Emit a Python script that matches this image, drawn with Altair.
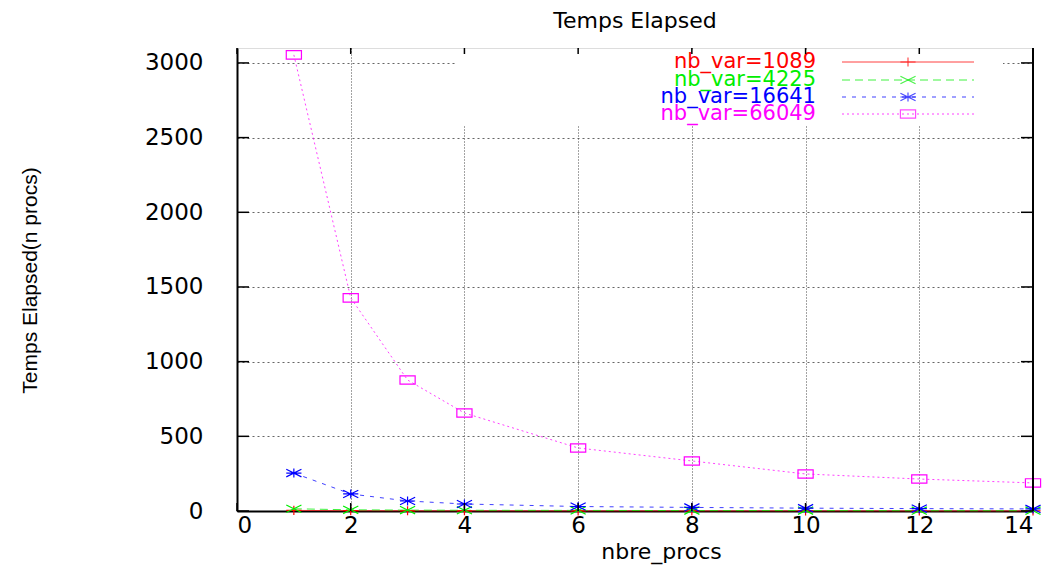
import altair as alt
import pandas as pd

# ---- data ----
procs = [1, 2, 3, 4, 6, 8, 10, 12, 14]
series_names = ["nb_var=1089", "nb_var=4225", "nb_var=16641", "nb_var=66049"]
t_1089 = [4, 2, 1.5, 1.2, 0.9, 0.7, 0.6, 0.5, 0.5]
t_4225 = [15, 8, 6, 5, 4, 3, 3, 2, 2]
t_16641 = [254, 114, 67, 47, 30, 24, 19, 16, 14]
t_66049 = [3054, 1427, 877, 656, 422, 335, 248, 214, 188]
x_ticks = [0, 2, 4, 6, 8, 10, 12, 14]
y_ticks = [0, 500, 1000, 1500, 2000, 2500, 3000]

colors = ["#ff0000", "#00ee00", "#0000ff", "#ff00ff"]
dashes = [[1, 0], [8, 5], [4, 6], [2, 3]]
shapes = [
    "M-1,0L1,0M0,-0.6L0,0.6",
    "M-1,-0.5L1,0.5M-1,0.5L1,-0.5",
    "M-1,0L1,0M0,-0.6L0,0.6M-1,-0.5L1,0.5M-1,0.5L1,-0.5",
    "M-1,-0.55L1,-0.55L1,0.55L-1,0.55Z",
]

rows = []
for name, vals in zip(series_names, [t_1089, t_4225, t_16641, t_66049]):
    for p, v in zip(procs, vals):
        rows.append({"procs": p, "time": v, "series": name})
df = pd.DataFrame(rows)

W, H = 796, 463
FONT = "DejaVu Sans"

xs = alt.Scale(domain=[0, 14], nice=False, zero=False)
ys = alt.Scale(domain=[0, 3100], nice=False)
col = alt.Color("series:N", scale=alt.Scale(domain=series_names, range=colors), legend=None)
dash = alt.StrokeDash("series:N", scale=alt.Scale(domain=series_names, range=dashes), legend=None)
shp = alt.Shape("series:N", scale=alt.Scale(domain=series_names, range=shapes), legend=None)

x_axis = alt.Axis(values=x_ticks, format="d", title="nbre_procs", grid=True, gridDash=[1, 2],
                  gridColor="#333", gridOpacity=0.9, ticks=False, tickSize=0,
                  domainColor="black", domainWidth=2, labelFont=FONT, labelFontSize=23,
                  labelPadding=3, labelColor="black", titleFont=FONT, titleFontSize=22,
                  titleFontWeight="normal", titleX=424, titleY=40, titleBaseline="middle",
                  titleAlign="center", titleColor="black")
y_axis = alt.Axis(values=y_ticks, format="d", title="Temps Elapsed(n procs)", grid=True,
                  gridDash=[2, 3], gridColor="#555", gridOpacity=0.9, ticks=False, tickSize=0,
                  domainColor="black", domainWidth=2, labelFont=FONT, labelFontSize=23,
                  labelPadding=34, labelColor="black",
                  titleFont="Liberation Sans Narrow, Liberation Sans", titleFontSize=21,
                  titleFontWeight="normal", titleX=-207, titleY=232, titleAngle=270,
                  titleBaseline="middle", titleAlign="center", titleColor="black")

base = alt.Chart(df)
lines = base.mark_line(strokeWidth=1, opacity=0.75).encode(
    x=alt.X("procs:Q", scale=xs, axis=x_axis),
    y=alt.Y("time:Q", scale=ys, axis=y_axis),
    color=col, strokeDash=dash, detail="series:N",
)
points = base.mark_point(filled=False, strokeWidth=1.2, size=230, opacity=1).encode(
    x=alt.X("procs:Q", scale=xs), y=alt.Y("time:Q", scale=ys),
    color=col, shape=shp,
)

# legend box (white) covering the grid
legend_box = alt.Chart(pd.DataFrame({"a": [0]})).mark_rect(color="white").encode(
    x=alt.value(220), x2=alt.value(766), y=alt.value(1.5), y2=alt.value(77)
)

# inward ticks on all four sides, and the right frame line
xt = pd.DataFrame({"v": x_ticks})
yt = pd.DataFrame({"v": y_ticks})
tick_bottom = alt.Chart(xt).mark_rule(color="black", strokeWidth=1.5).encode(
    x=alt.X("v:Q", scale=xs), y=alt.value(H), y2=alt.value(H - 8))
tick_top = alt.Chart(xt).mark_rule(color="black", strokeWidth=1.5).encode(
    x=alt.X("v:Q", scale=xs), y=alt.value(0), y2=alt.value(6))
tick_left = alt.Chart(yt).mark_rule(color="black", strokeWidth=1.5).encode(
    y=alt.Y("v:Q", scale=ys), x=alt.value(0), x2=alt.value(12))
tick_right = alt.Chart(yt).mark_rule(color="black", strokeWidth=1.5).encode(
    y=alt.Y("v:Q", scale=ys), x=alt.value(W), x2=alt.value(W - 12))
right_frame = alt.Chart(pd.DataFrame({"a": [0]})).mark_rule(color="black", strokeWidth=2).encode(
    x=alt.value(W), y=alt.value(0), y2=alt.value(H))

# legend entries
leg_layers = []
row_y = [14, 32, 49, 66]
for i, name in enumerate(series_names):
    ld = pd.DataFrame({"series": [name]})
    leg_layers.append(alt.Chart(ld).mark_text(align="right", baseline="middle", font=FONT,
                                              fontSize=21, color=colors[i]).encode(
        text="series:N", x=alt.value(579), y=alt.value(row_y[i])))
    leg_layers.append(alt.Chart(ld).mark_rule(color=colors[i], strokeWidth=1, opacity=0.75,
                                              strokeDash=dashes[i]).encode(
        x=alt.value(605), x2=alt.value(737), y=alt.value(row_y[i])))
    leg_layers.append(alt.Chart(ld).mark_point(filled=False, strokeWidth=1.2, size=230,
                                               color=colors[i], shape=shapes[i]).encode(
        x=alt.value(671), y=alt.value(row_y[i])))

chart = alt.layer(
    lines, points, legend_box, *leg_layers,
    tick_bottom, tick_top, tick_left, tick_right, right_frame,
).properties(
    width=W, height=H,
    title=alt.TitleParams("Temps Elapsed", font=FONT, fontSize=22, fontWeight="normal",
                          anchor="middle", offset=14, color="black"),
    autosize=alt.AutoSizeParams(type="none"),
    padding={"left": 229, "top": 40, "right": 22, "bottom": 58},
).configure_view(stroke="#888", strokeWidth=1).configure(background="white")

chart.save("out.html", embed_options={"renderer": "svg", "actions": False})
